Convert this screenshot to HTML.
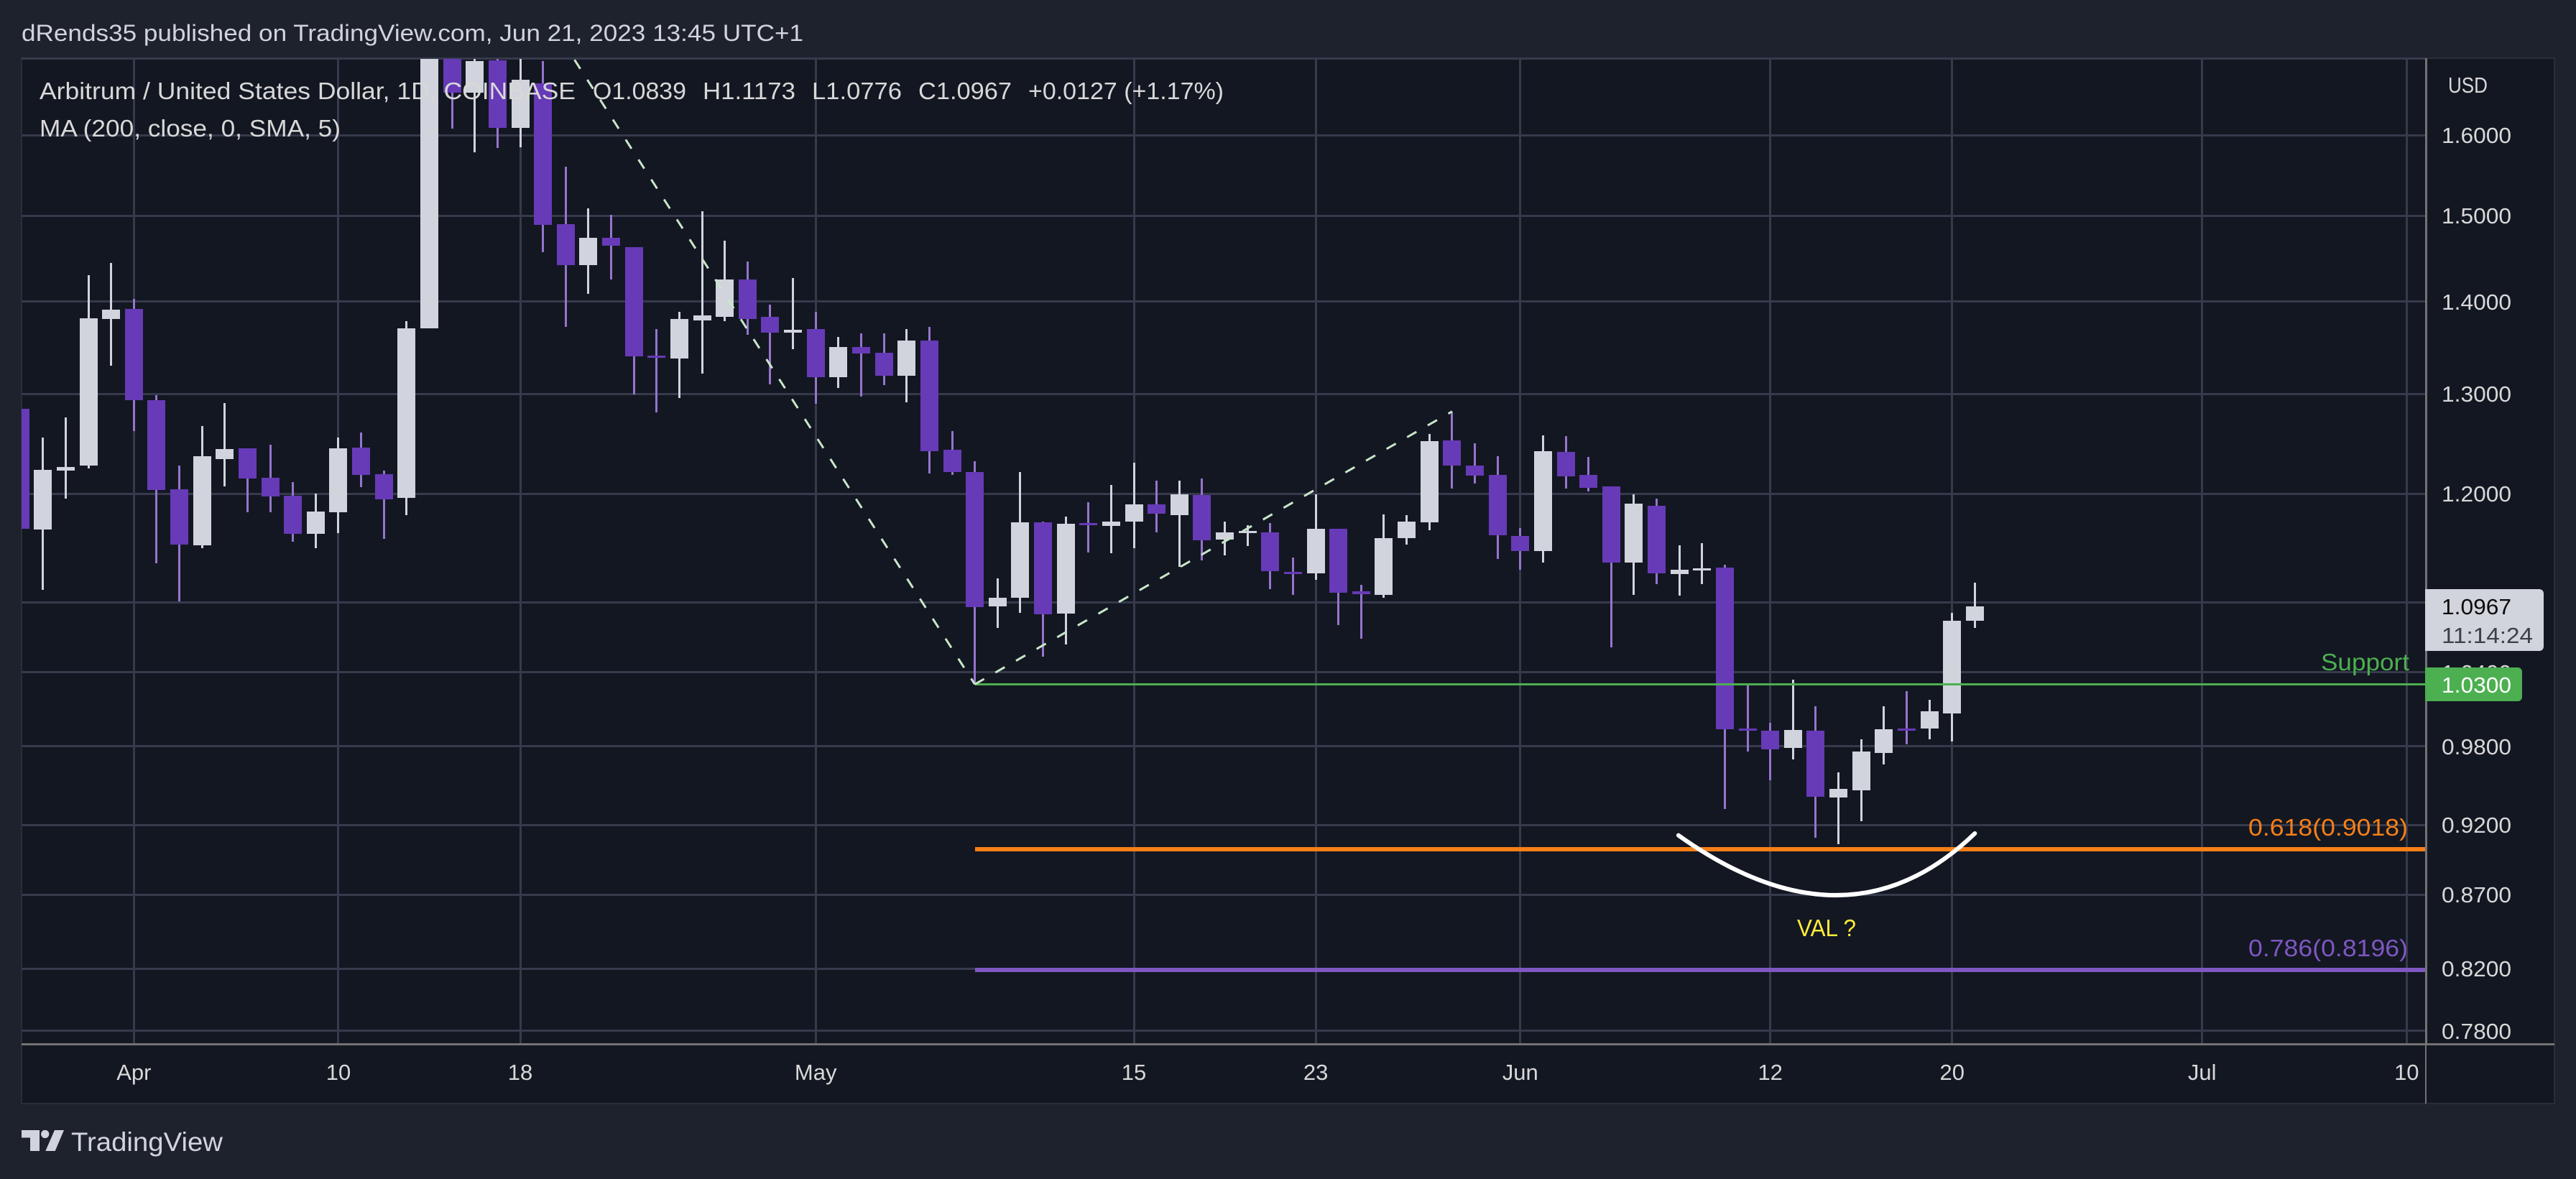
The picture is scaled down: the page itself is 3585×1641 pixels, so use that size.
<!DOCTYPE html>
<html lang="en">
<head>
<meta charset="utf-8">
<title>Arbitrum / USD chart</title>
<style>
html,body{margin:0;padding:0;background:#1e222d;width:3585px;height:1641px;overflow:hidden}
svg{display:block;font-family:"Liberation Sans",sans-serif}
text{white-space:pre}
</style>
</head>
<body>
<svg id="chart" xmlns="http://www.w3.org/2000/svg" width="3585" height="1641" viewBox="0 0 3585 1641">
  <defs>
    <clipPath id="plot-clip"><rect x="30" y="82" width="3346" height="1371"/></clipPath>
  </defs>
  <rect x="0" y="0" width="3585" height="1641" fill="#1e222d"/>
  <rect x="30" y="81" width="3525" height="1455" fill="#131722" stroke="#2a2e39" stroke-width="2"/>
  <rect x="30" y="80" width="3346" height="3" fill="#363a4c"/>
  <g id="grid"></g>
  <g id="price-labels"></g>
  <g id="time-labels"></g>
  <g id="candles" clip-path="url(#plot-clip)"></g>
  <g id="drawings" clip-path="url(#plot-clip)"></g>

  <rect x="30" y="1452" width="3525" height="3" fill="#737373"/>
  <rect x="3375" y="81" width="3" height="1372" fill="#737373"/>
  <rect x="3375" y="1453" width="2" height="83" fill="#737373"/>

  <text x="30" y="57" font-size="32" fill="#d1d4dc" textLength="1088" lengthAdjust="spacingAndGlyphs">dRends35 published on TradingView.com, Jun 21, 2023 13:45 UTC+1</text>

  <g font-size="33" fill="#d8d8d8">
    <text x="55" y="138" textLength="746" lengthAdjust="spacingAndGlyphs">Arbitrum / United States Dollar, 1D, COINBASE</text>
    <text x="825" y="138" textLength="130" lengthAdjust="spacingAndGlyphs">O1.0839</text>
    <text x="978" y="138" textLength="129" lengthAdjust="spacingAndGlyphs">H1.1173</text>
    <text x="1130" y="138" textLength="125" lengthAdjust="spacingAndGlyphs">L1.0776</text>
    <text x="1278" y="138" textLength="130" lengthAdjust="spacingAndGlyphs">C1.0967</text>
    <text x="1431" y="138" textLength="272" lengthAdjust="spacingAndGlyphs">+0.0127 (+1.17%)</text>
    <text x="55" y="190" textLength="419" lengthAdjust="spacingAndGlyphs">MA (200, close, 0, SMA, 5)</text>
  </g>

  <text x="3407" y="129" font-size="31" fill="#d8d8d8" textLength="55" lengthAdjust="spacingAndGlyphs">USD</text>

  <text x="3230" y="933" font-size="33" fill="#4caf50" textLength="123" lengthAdjust="spacingAndGlyphs">Support</text>
  <text x="3129" y="1163" font-size="33" fill="#f57f17" textLength="222" lengthAdjust="spacingAndGlyphs">0.618(0.9018)</text>
  <text x="3129" y="1331" font-size="33" fill="#7e57c2" textLength="222" lengthAdjust="spacingAndGlyphs">0.786(0.8196)</text>
  <text x="2501" y="1303" font-size="33" fill="#ffeb3b" textLength="82" lengthAdjust="spacingAndGlyphs">VAL ?</text>

  <g>
    <path d="M3375 820H3534a6 6 0 0 1 6 6V900a6 6 0 0 1 -6 6H3375Z" fill="#d1d4dc"/>
    <text x="3398" y="855" font-size="31" fill="#0c0c0c" textLength="97" lengthAdjust="spacingAndGlyphs">1.0967</text>
    <text x="3398" y="895" font-size="31" fill="#3d3f45" textLength="127" lengthAdjust="spacingAndGlyphs">11:14:24</text>
  </g>
  <g>
    <path d="M3375 929H3504a6 6 0 0 1 6 6V970a6 6 0 0 1 -6 6H3375Z" fill="#4caf50"/>
    <text x="3398" y="964" font-size="31" fill="#ffffff" textLength="97" lengthAdjust="spacingAndGlyphs">1.0300</text>
  </g>

  <g fill="#d1d4dc">
    <path d="M30 1573H55V1602H42V1583.5H30Z"/>
    <circle cx="62.7" cy="1578.5" r="5.6"/>
    <path d="M76 1573H89L76.7 1602H63.3Z"/>
    <text x="99" y="1602" font-size="37" textLength="211" lengthAdjust="spacingAndGlyphs">TradingView</text>
  </g>
</svg>

<script>
// ---- chart data (prices in USD, one entry per daily bar) ----
const dates = ['03-27','03-28','03-29','03-30','03-31','04-01','04-02','04-03','04-04','04-05','04-06','04-07','04-08','04-09','04-10','04-11','04-12','04-13','04-14','04-15','04-16','04-17','04-18','04-19','04-20','04-21','04-22','04-23','04-24','04-25','04-26','04-27','04-28','04-29','04-30','05-01','05-02','05-03','05-04','05-05','05-06','05-07','05-08','05-09','05-10','05-11','05-12','05-13','05-14','05-15','05-16','05-17','05-18','05-19','05-20','05-21','05-22','05-23','05-24','05-25','05-26','05-27','05-28','05-29','05-30','05-31','06-01','06-02','06-03','06-04','06-05','06-06','06-07','06-08','06-09','06-10','06-11','06-12','06-13','06-14','06-15','06-16','06-17','06-18','06-19','06-20','06-21'];
const opens = [1.2844,1.1663,1.2223,1.2272,1.3809,1.3920,1.2932,1.2046,1.1516,1.2341,1.2448,1.2158,1.1982,1.1623,1.1821,1.2456,1.2191,1.1963,1.3706,1.72,1.6553,1.6988,1.6092,1.6678,1.4896,1.4416,1.4731,1.4624,1.3408,1.3376,1.3792,1.3830,1.4247,1.3826,1.3658,1.3697,1.3179,1.3499,1.3438,1.3194,1.3570,1.2433,1.2214,1.0965,1.1041,1.1731,1.0903,1.1724,1.1697,1.1738,1.1900,1.1799,1.1988,1.1569,1.1630,1.1636,1.1274,1.1261,1.1670,1.1100,1.1067,1.1582,1.1731,1.2525,1.2278,1.2186,1.1602,1.1462,1.2412,1.2186,1.2073,1.1359,1.1887,1.1250,1.1288,1.1313,0.9942,0.9925,0.9785,0.9925,0.9407,0.9461,0.9751,0.9942,0.9942,1.0063,1.0839];
const highs = [1.2844,1.2557,1.2761,1.4300,1.4442,1.4033,1.2991,1.2272,1.2673,1.2908,1.2448,1.2482,1.2115,1.2004,1.2557,1.2601,1.2223,1.3783,1.74,1.74,1.72,1.71,1.73,1.6978,1.5601,1.5088,1.5007,1.4624,1.3697,1.3886,1.5050,1.4703,1.4460,1.3967,1.4269,1.3887,1.3610,1.3650,1.3650,1.3697,1.3721,1.2621,1.2320,1.1210,1.2214,1.1738,1.1785,1.1921,1.2087,1.2306,1.2129,1.2129,1.2151,1.1738,1.1704,1.1724,1.1404,1.1995,1.1670,1.1158,1.1806,1.1799,1.2592,1.2819,1.2496,1.2369,1.1677,1.2577,1.2570,1.2362,1.2073,1.1995,1.1955,1.1515,1.1535,1.1339,1.0294,0.9987,1.0341,1.0122,0.9599,0.9858,1.0122,1.0246,1.0170,1.0909,1.1173];
const lows = [1.1670,1.1112,1.1956,1.2245,1.3302,1.2618,1.1350,1.1006,1.1488,1.2069,1.1824,1.1824,1.1545,1.1488,1.1626,1.2062,1.1575,1.1799,1.3706,1.6083,1.5782,1.5837,1.5846,1.4566,1.3718,1.4087,1.4251,1.2999,1.2808,1.2955,1.3215,1.3783,1.3633,1.3102,1.3479,1.2900,1.3064,1.2974,1.3095,1.2915,1.2200,1.2186,1.0307,1.0779,1.0909,1.0531,1.0636,1.1449,1.1443,1.1488,1.1636,1.1320,1.1378,1.1424,1.1508,1.1119,1.1067,1.1203,1.0803,1.0686,1.1041,1.1521,1.1657,1.2052,1.2101,1.1391,1.1294,1.1359,1.2052,1.2023,1.0611,1.1067,1.1164,1.1060,1.1164,0.9318,0.9757,0.9537,0.9695,0.9105,0.9062,0.9227,0.9661,0.9818,0.9858,0.9841,1.0776];
const closes = [1.1670,1.2230,1.2264,1.3817,1.3912,1.2935,1.2039,1.1523,1.2364,1.2441,1.2150,1.1975,1.1619,1.1828,1.2448,1.2180,1.1949,1.3706,1.73,1.6553,1.6978,1.6092,1.6726,1.4892,1.4416,1.4731,1.4643,1.3401,1.3380,1.3809,1.3848,1.4247,1.3809,1.3658,1.3689,1.3179,1.3499,1.3431,1.3194,1.3570,1.2419,1.2214,1.0958,1.1041,1.1731,1.0896,1.1718,1.1704,1.1738,1.1900,1.1812,1.1995,1.1562,1.1636,1.1650,1.1281,1.1255,1.1670,1.1087,1.1074,1.1582,1.1738,1.2518,1.2278,1.2179,1.1609,1.1462,1.2419,1.2172,1.2059,1.1359,1.1907,1.1261,1.1294,1.1307,0.9936,0.9922,0.9779,0.9931,0.9413,0.9472,0.9757,0.9936,0.9928,1.0081,1.0841,1.0967];

const priceTicks = [1.6,1.5,1.4,1.3,1.2,1.1,1.04,0.98,0.92,0.87,0.82,0.78];
const hiddenPriceTickLabels = ['1.1000'];
const timeTickLabels = ['Apr','10','18','May','15','23','Jun','12','20','Jul','10'];
const timeTickBars = [5,14,22,35,49,57,66,77,85,96,105];

const supportPrice = [1.03];
const fibLevels = [0.9022,0.8192];
const fibColors = ['#f57f17','#7e57c2'];
const fibNames = ['fib-618-line','fib-786-line'];
const anchorBar = [42];
const trendBars = [21,42,63];
const trendPrices = [1.8715,1.03,1.2819];
const arcBars = [72.96,80.4,86];
const arcPrices = [0.9125,0.8283,0.9139];

// ---- axis functions ----
function xScale(bar){ return 28.17 + 31.63 * bar; }
function yScale(price){ return 188 + 1735.6 * Math.log(1.6 / price); }

const NS = 'http://www.w3.org/2000/svg';
function make(tag, attrs, parent){
  const node = document.createElementNS(NS, tag);
  for (const k in attrs) node.setAttribute(k, attrs[k]);
  parent.appendChild(node);
  return node;
}

const gridG = document.getElementById('grid');
const priceG = document.getElementById('price-labels');
const timeG = document.getElementById('time-labels');
const candleG = document.getElementById('candles');
const drawG = document.getElementById('drawings');

// horizontal grid + price labels
priceTicks.forEach(function(p){
  const y = yScale(p);
  const line = make('rect', {x:30, y:Math.round(y-1.5), width:3346, height:3, fill:'#363a4c'}, gridG);
  
  
  const txt = p.toFixed(4);
  if (hiddenPriceTickLabels.indexOf(txt) < 0) {
    const label = make('text', {x:3398, y:Math.round(y)+11, 'font-size':31, fill:'#d8d8d8', textLength:97, lengthAdjust:'spacingAndGlyphs'}, priceG);
    
    
    label.textContent = txt;
  }
});

// vertical grid + time labels
timeTickBars.forEach(function(b, i){
  const x = xScale(b);
  const line = make('rect', {x:Math.round(x-1.5), y:83, width:3, height:1369, fill:'#363a4c'}, gridG);
  
  
  const label = make('text', {x:x, y:1503, 'font-size':31, fill:'#d8d8d8', 'text-anchor':'middle'}, timeG);
  
  
  label.textContent = timeTickLabels[i];
});

// candles
dates.forEach(function(d, i){
  const up = closes[i] >= opens[i];
  const cx = xScale(i);
  const g = make('g', {}, candleG);
  
  
  const hy = Math.round(yScale(highs[i]));
  const ly = Math.round(yScale(lows[i]));
  const wick = make('rect', {x:Math.round(cx-1.5), y:hy, width:3, height:Math.max(1, ly-hy), fill: up ? '#d1d4dc' : '#9575cd'}, g);
  
  
  const ty = Math.round(yScale(Math.max(opens[i], closes[i])));
  const by = Math.round(yScale(Math.min(opens[i], closes[i])));
  const body = make('rect', {x:Math.round(cx-12.5), y:ty, width:25, height:Math.max(3, by-ty), fill: up ? '#d1d4dc' : '#673ab7'}, g);
  
  
});

// fib levels
fibLevels.forEach(function(level, i){
  const y = yScale(level);
  const line = make('rect', {x:Math.round(xScale(anchorBar[0])), y:Math.round(y-3), width:3376-Math.round(xScale(anchorBar[0])), height:6, fill:fibColors[i]}, drawG);
  
  
});

// support line
const supY = Math.round(yScale(supportPrice[0])-1.5);
const supLine = make('rect', {x:Math.round(xScale(anchorBar[0])), y:supY, width:3376-Math.round(xScale(anchorBar[0])), height:3, fill:'#4caf50'}, drawG);



// dashed fib trend lines, both drawn outward from the apex
const trendA = make('line', {x1:xScale(trendBars[1]), y1:yScale(trendPrices[1]), x2:xScale(trendBars[0]), y2:yScale(trendPrices[0]), stroke:'#c8e6c9', 'stroke-width':3, 'stroke-dasharray':'15 18', 'stroke-dashoffset':5.5}, drawG);


const trendB = make('line', {x1:xScale(trendBars[1]), y1:yScale(trendPrices[1]), x2:xScale(trendBars[2]), y2:yScale(trendPrices[2]), stroke:'#c8e6c9', 'stroke-width':3, 'stroke-dasharray':'15 18'}, drawG);



// hand-drawn arc
const arc = make('path', {d:'M'+xScale(arcBars[0])+' '+yScale(arcPrices[0])+' Q'+xScale(arcBars[1])+' '+yScale(arcPrices[1])+' '+xScale(arcBars[2])+' '+yScale(arcPrices[2]), fill:'none', stroke:'#ffffff', 'stroke-width':6, 'stroke-linecap':'round'}, drawG);


</script>
</body>
</html>
